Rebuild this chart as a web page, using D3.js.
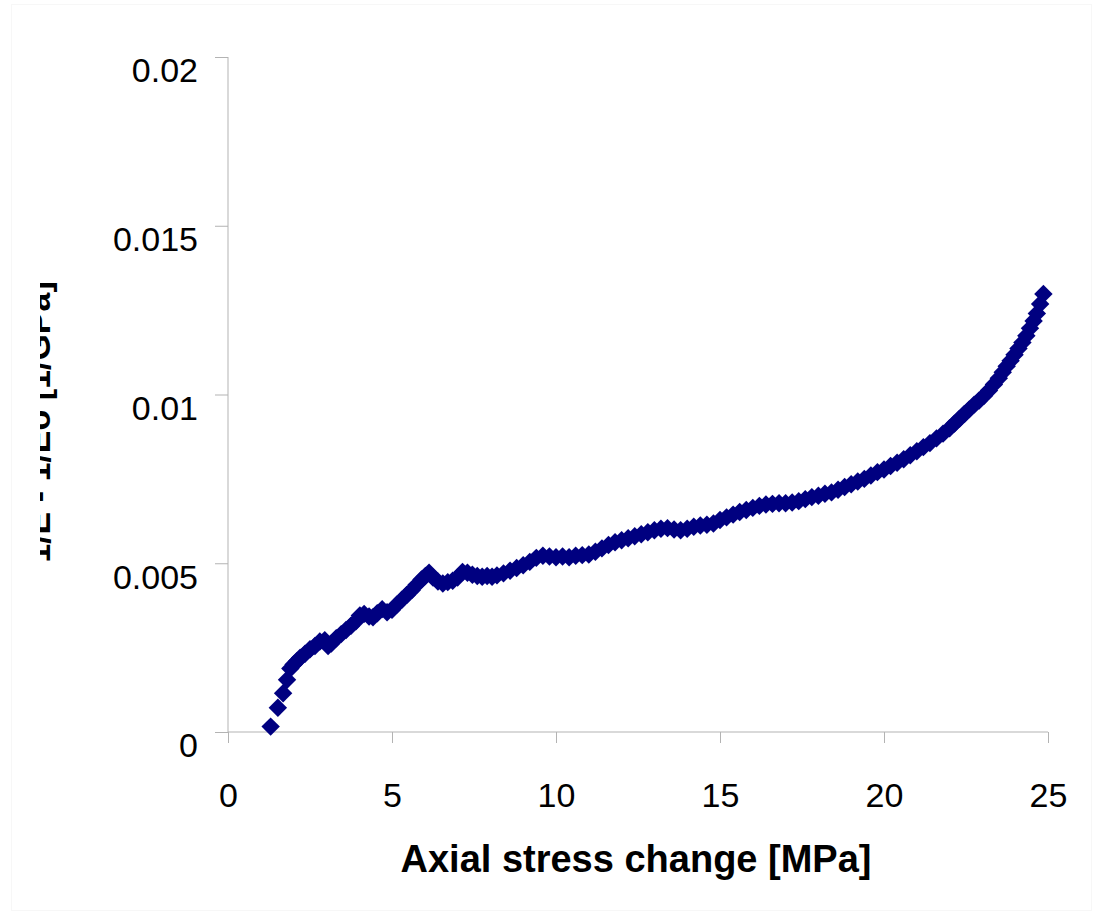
<!DOCTYPE html>
<html>
<head>
<meta charset="utf-8">
<script src="https://cdn.jsdelivr.net/npm/d3@7"></script>
<style>
  body { margin: 0; background: #fff; }
  svg { display: block; font-family: "Liberation Sans", Arial, sans-serif; }
</style>
</head>
<body>
<svg id="chart"></svg>
<script>
// 轴向应力变化 [MPa]
const stress = [
  1.30, 1.52, 1.68, 1.80, 1.90, 2.00, 2.10, 2.20, 2.35, 2.50, 2.65, 2.80, 2.95, 3.05, 3.15,
  3.30, 3.45, 3.60, 3.75, 3.90, 4.02, 4.15, 4.30, 4.42, 4.55, 4.70, 4.85, 5.00, 5.15, 5.30,
  5.45, 5.60, 5.75, 5.90, 6.02, 6.13, 6.25, 6.40, 6.55, 6.70, 6.85, 7.00, 7.15, 7.30, 7.45,
  7.60, 7.75, 7.90, 8.05, 8.20, 8.40, 8.60, 8.80, 9.00, 9.20, 9.40, 9.60, 9.80, 10.00, 10.20,
  10.40, 10.60, 10.80, 11.00, 11.20, 11.40, 11.60, 11.80, 12.00, 12.20, 12.40, 12.60, 12.80,
  13.00, 13.20, 13.40, 13.60, 13.80, 14.00, 14.20, 14.40, 14.60, 14.80, 15.00, 15.20, 15.40,
  15.60, 15.80, 16.00, 16.20, 16.40, 16.60, 16.80, 17.00, 17.20, 17.40, 17.60, 17.80, 18.00,
  18.20, 18.40, 18.60, 18.80, 19.00, 19.20, 19.40, 19.60, 19.80, 20.00, 20.20, 20.40, 20.60,
  20.80, 21.00, 21.20, 21.40, 21.60, 21.80, 22.00, 22.15, 22.30, 22.45, 22.60, 22.75, 22.90,
  23.05, 23.20, 23.35, 23.50, 23.62, 23.74, 23.86, 23.98, 24.10, 24.22, 24.34, 24.45, 24.56,
  24.66, 24.76, 24.86
];

// 纵轴数值 (x 1e-3)
const compliance = [
  0.16, 0.72, 1.15, 1.55, 1.88, 2.00, 2.10, 2.20, 2.32, 2.45, 2.55, 2.68, 2.72, 2.55, 2.62,
  2.78, 2.90, 3.02, 3.15, 3.28, 3.45, 3.50, 3.42, 3.40, 3.52, 3.64, 3.55, 3.62, 3.78, 3.92,
  4.06, 4.20, 4.36, 4.52, 4.62, 4.72, 4.58, 4.46, 4.40, 4.44, 4.48, 4.58, 4.74, 4.72, 4.66,
  4.62, 4.60, 4.62, 4.60, 4.64, 4.70, 4.78, 4.86, 4.94, 5.04, 5.16, 5.22, 5.20, 5.18, 5.20,
  5.18, 5.22, 5.24, 5.26, 5.34, 5.44, 5.54, 5.62, 5.68, 5.74, 5.80, 5.86, 5.92,
  5.98, 6.02, 6.04, 6.00, 5.98, 6.02, 6.08, 6.12, 6.14, 6.18, 6.28, 6.36, 6.44,
  6.52, 6.58, 6.64, 6.70, 6.74, 6.76, 6.78, 6.78, 6.80, 6.84, 6.90, 6.96, 7.00,
  7.06, 7.10, 7.18, 7.26, 7.34, 7.42, 7.50, 7.60, 7.70, 7.78, 7.88, 7.98, 8.08,
  8.20, 8.32, 8.44, 8.56, 8.70, 8.84, 9.00, 9.14, 9.28, 9.42, 9.56, 9.70, 9.82,
  9.96, 10.12, 10.30, 10.48, 10.66, 10.84, 11.00, 11.18, 11.36, 11.54, 11.74, 11.96, 12.18,
  12.40, 12.68, 12.98
];

const xTicks = [0, 5, 10, 15, 20, 25];
const yTicks = [0, 0.005, 0.01, 0.015, 0.02];
const xTitle = 'Axial stress change [MPa]';
const yTitle = '1/E - 1/Eo [1/GPa]';

const width = 1096;
const height = 915;
const margin = { left: 228, right: 48, top: 57, bottom: 183 };

const svg = d3.select('#chart')
  .attr('width', width)
  .attr('height', height);

// 图表外框 (很淡)
svg.append('rect')
  .attr('x', 11.5).attr('y', 4.5)
  .attr('width', 1080).attr('height', 906)
  .attr('fill', 'none')
  .attr('stroke', '#f7f7f7');

const x = d3.scaleLinear()
  .domain([0, 25])
  .range([margin.left, width - margin.right]);

const y = d3.scaleLinear()
  .domain([0, 0.02])
  .range([height - margin.bottom, margin.top]);

const axisColor = '#b3b3b3';

// 横轴
const xAxis = svg.append('g')
  .attr('transform', `translate(0,${y(0)})`)
  .call(d3.axisBottom(x).tickValues(xTicks).tickSize(11).tickPadding(40).tickFormat(d3.format('d')));

// 纵轴
const yAxis = svg.append('g')
  .attr('transform', `translate(${x(0)},0)`)
  .call(d3.axisLeft(y).tickValues(yTicks).tickSize(13).tickPadding(17).tickFormat(d => d === 0 ? '0' : String(+d.toFixed(3))));

[xAxis, yAxis].forEach(ax => {
  ax.select('.domain').attr('stroke', axisColor).attr('stroke-width', 1);
  ax.selectAll('.tick line').attr('stroke', axisColor).attr('stroke-width', 1);
  ax.selectAll('.tick text')
    .attr('fill', '#000')
    .style('font-size', '34px')
    .style('font-family', '"Liberation Sans", Arial, sans-serif');
});
xAxis.select('.domain').attr('d', `M${x(0)},0H${x(25)}`);
yAxis.select('.domain').attr('d', `M0,${y(0)}V${y(0.02)}`);
yAxis.selectAll('.tick text').attr('dy', '0.35em').attr('y', 13);

// 数据点 (菱形)
const points = stress.map((s, i) => ({ s, c: compliance[i] / 1000 }));
const diamond = d3.symbol().type(d3.symbolSquare).size(170);

svg.append('g')
  .selectAll('path.pt')
  .data(points)
  .enter()
  .append('path')
  .attr('class', 'pt')
  .attr('d', diamond)
  .attr('transform', d => `translate(${x(d.s)},${y(d.c)}) rotate(45)`)
  .attr('fill', '#000080');

// 横轴标题
svg.append('text')
  .attr('x', 636)
  .attr('y', 872)
  .attr('text-anchor', 'middle')
  .style('font-size', '38px')
  .style('font-weight', 'bold')
  .text(xTitle);

// 纵轴标题 (左侧被裁切)
svg.append('clipPath')
  .attr('id', 'yclip')
  .append('rect')
  .attr('x', 40).attr('y', 0).attr('width', 100).attr('height', height);

svg.append('g')
  .attr('clip-path', 'url(#yclip)')
  .append('text')
  .attr('transform', 'translate(50,422) rotate(-90)')
  .attr('text-anchor', 'middle')
  .style('font-size', '34px')
  .style('font-weight', 'bold')
  .text(yTitle);
</script>
</body>
</html>
